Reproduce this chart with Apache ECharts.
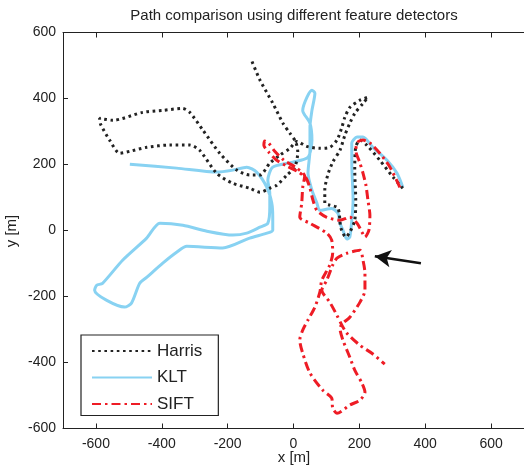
<!DOCTYPE html>
<html>
<head>
<meta charset="utf-8">
<script src="https://cdn.jsdelivr.net/npm/echarts@6/dist/echarts.min.js"></script>
<style>html,body{margin:0;padding:0;background:#fff}#c{width:524px;height:470px}</style>
</head>
<body>
<div id="c"></div>
<script>
// ---- data ----
var seriesNames = ['Harris', 'KLT', 'SIFT'];
var xTicks = [-600, -400, -200, 0, 200, 400, 600];
var yTicks = [-600, -400, -200, 0, 200, 400, 600];
var harrisPath = [
  [332,128],[302,162],[262,213],[223,258],[202,274],[189,253],[186,183],[189,92],[186,31],[171,-5],[159,-20],
  [144,7],[135,68],[110,77],[95,83],[95,122],[104,168],[119,207],[141,243],[156,289],[171,325],[186,355],
  [211,385],[226,404],[202,395],[171,373],[156,343],[147,313],[132,274],[110,252],[80,249],[40,255],[10,270],
  [-11,249],[-42,228],[-72,204],[-102,168],[-133,168],[-172,183],[-224,234],[-275,304],[-315,358],[-337,370],
  [-397,364],[-458,358],[-549,334],[-589,340],[-586,322],[-558,273],[-528,234],[-497,240],[-446,252],[-376,259],
  [-315,259],[-285,243],[-233,173],[-184,143],[-133,128],[-102,116],[-72,128],[-51,137],[-20,168],[4,192],
  [13,237],[7,268],[-11,295],[-32,325],[-63,386],[-102,456],[-130,522]
];
var kltPath = [
  [-497,201],[-355,189],[-233,177],[-184,183],[-142,192],[-112,177],[-81,131],[-66,83],[-63,40],[-63,1],
  [-81,-8],[-133,-23],[-215,-53],[-324,-48],[-355,-66],[-397,-99],[-446,-142],[-467,-160],[-492,-220],[-513,-232],
  [-604,-181],[-598,-166],[-580,-160],[-519,-90],[-446,-23],[-406,22],[-336,16],[-263,-2],[-184,-14],[-142,-8],
  [-102,10],[-78,22],[-72,71],[-72,113],[-78,152],[-63,192],[-2,207],[44,222],[56,274],[50,325],[28,364],
  [41,404],[56,425],[65,416],[56,364],[50,313],[50,243],[44,174],[56,122],[71,83],[80,61],[116,67],[135,52],
  [141,22],[150,1],[162,-26],[171,-20],[177,31],[181,92],[177,204],[177,265],[193,283],[211,283],[241,252],
  [284,213],[314,174],[332,131]
];
var siftPath = [
  [323,131],[293,192],[262,234],[232,265],[211,274],[195,268],[189,243],[202,204],[211,174],[220,137],[226,92],
  [232,46],[229,1],[217,-20],[208,-5],[193,22],[171,40],[141,31],[101,40],[71,61],[59,92],[50,128],[38,159],
  [10,180],[-20,195],[-51,213],[-75,237],[-90,258],[-87,271],[-75,264],[-57,240],[-29,213],[10,189],[34,165],
  [28,131],[25,83],[19,40],[50,22],[101,-8],[116,-29],[119,-69],[110,-105],[86,-151],[80,-187],[65,-232],
  [44,-271],[28,-302],[19,-332],[28,-372],[50,-432],[89,-484],[116,-508],[119,-538],[132,-554],[171,-529],
  [202,-514],[217,-490],[208,-463],[186,-423],[171,-384],[150,-332],[141,-296],[150,-281],[171,-263],[202,-217],
  [217,-181],[217,-129],[211,-90],[202,-60],[162,-69],[132,-84],[119,-105],[101,-151],[86,-181],[110,-217],
  [132,-257],[147,-287],[162,-311],[202,-348],[238,-372],[277,-405]
];
var arrowFrom = [387, -99];
var arrowTo = [247, -78];

// ---- chart ----
var FONT = 'Liberation Sans, Arial, Helvetica, sans-serif';
var chart = echarts.init(document.getElementById('c'), null, {renderer: 'canvas'});
var axisLine = {show: true, onZero: false, lineStyle: {color: '#222', width: 1}};
var tickLine = {color: '#222', width: 1};
chart.setOption({
  animation: false,
  backgroundColor: '#fff',
  graphic: [{
    type: 'text', silent: true,
    style: {x: 294, y: 16, text: 'Path comparison using different feature detectors',
      textAlign: 'center', textVerticalAlign: 'middle', font: '15px ' + FONT, fill: '#222'}
  }, {
    type: 'text', silent: true,
    style: {x: 294, y: 458, text: 'x [m]',
      textAlign: 'center', textVerticalAlign: 'middle', font: '15px ' + FONT, fill: '#222'}
  }, {
    type: 'text', silent: true, x: 12, y: 231, rotation: Math.PI / 2,
    style: {x: 0, y: 0, text: 'y [m]',
      textAlign: 'center', textVerticalAlign: 'middle', font: '15px ' + FONT, fill: '#222'}
  }],
  grid: {left: 63, right: 0, top: 32.5, bottom: 41.5, containLabel: false, outerBoundsMode: 'none'},
  legend: {
    orient: 'vertical', left: 81, top: 335,
    data: seriesNames,
    backgroundColor: '#fff',
    borderColor: '#222', borderWidth: 1.2, borderRadius: 0,
    padding: [7.5, 16, 3, 10],
    itemWidth: 60, itemHeight: 14, itemGap: 9.5,
    itemStyle: {opacity: 0},
    textStyle: {fontFamily: FONT, fontSize: 17, color: '#222'}
  },
  xAxis: [{
    type: 'value', min: -700, max: 700, position: 'bottom',
    axisLine: axisLine,
    axisTick: {show: true, inside: true, length: 5, customValues: xTicks, lineStyle: tickLine},
    axisLabel: {show: true, customValues: xTicks, margin: 9, fontFamily: FONT, fontSize: 14, color: '#222'},
    splitLine: {show: false}
  }, {
    type: 'value', min: -700, max: 700, position: 'top',
    axisLine: axisLine,
    axisTick: {show: true, inside: true, length: 5, customValues: xTicks, lineStyle: tickLine},
    axisLabel: {show: false},
    splitLine: {show: false}
  }],
  yAxis: [{
    type: 'value', min: -600, max: 600, interval: 200, position: 'left',
    axisLine: axisLine,
    axisTick: {show: true, inside: true, length: 5, lineStyle: tickLine},
    axisLabel: {show: true, margin: 7, fontFamily: FONT, fontSize: 14, color: '#222'},
    splitLine: {show: false}
  }],
  series: [{
    name: 'Harris', type: 'line', data: harrisPath, showSymbol: false, symbol: 'none', smooth: 0.25,
    lineStyle: {color: '#222', width: 3, type: [2.6, 3.6], cap: 'butt'},
    itemStyle: {color: '#222'}, z: 3
  }, {
    name: 'KLT', type: 'line', data: kltPath, showSymbol: false, symbol: 'none', smooth: 0.25,
    lineStyle: {color: '#88d2f2', width: 3},
    itemStyle: {color: '#88d2f2'}, z: 2
  }, {
    name: 'SIFT', type: 'line', data: siftPath, showSymbol: false, symbol: 'none', smooth: 0.25,
    lineStyle: {color: '#ee1c25', width: 3, type: [9, 4, 2.5, 4], cap: 'butt'},
    itemStyle: {color: '#ee1c25'}, z: 4,
    markLine: {
      silent: true, animation: false,
      symbol: ['none', 'arrow'], symbolSize: [13, 16],
      label: {show: false},
      lineStyle: {color: '#111', width: 2.5, type: 'solid'},
      emphasis: {disabled: true},
      data: [[{coord: arrowFrom}, {coord: arrowTo}]]
    }
  }]
});
</script>
</body>
</html>
